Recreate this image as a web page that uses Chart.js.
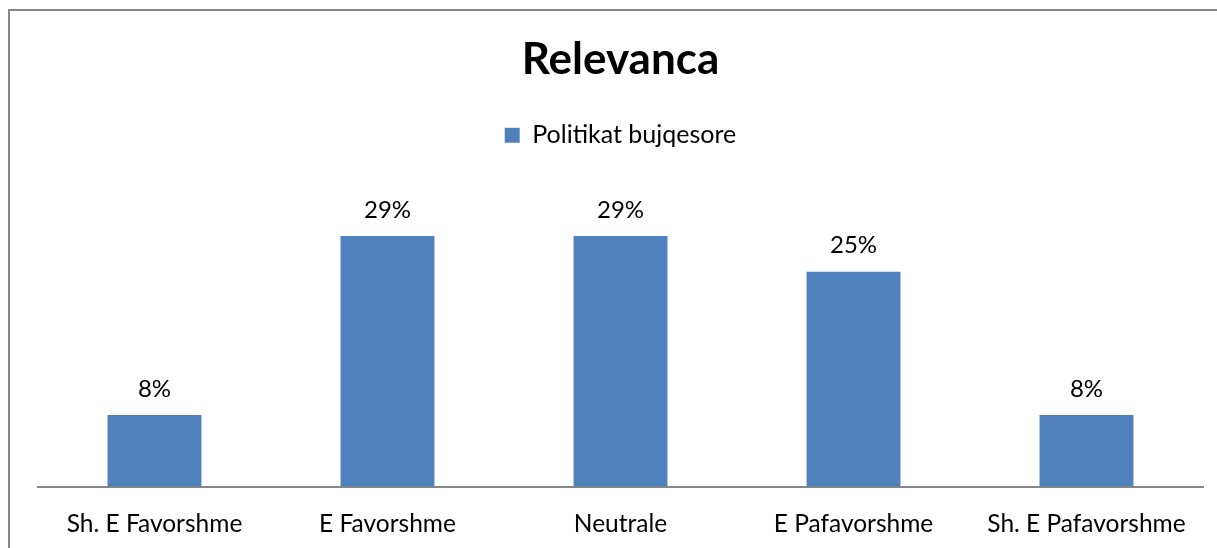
<!DOCTYPE html>
<html>
<head>
<meta charset="utf-8">
<script src="https://cdn.jsdelivr.net/npm/chart.js@4/dist/chart.umd.min.js"></script>
<style>
  html, body { margin: 0; padding: 0; background: #fff; }
  #frame {
    position: absolute; left: 0; top: 0; width: 1217px; height: 548px;
  }
  #border {
    position: absolute; left: 8px; top: 9px; right: 0; bottom: 0;
    border-top: 2px solid #868686; border-left: 2px solid #868686;
    pointer-events: none;
  }
</style>
</head>
<body>
<div id="frame">
  <canvas id="relevancaChart" width="1217" height="548"></canvas>
  <div id="border"></div>
</div>
<script>
// data (shares in %)
const categories = ["Sh. E Favorshme", "E Favorshme", "Neutrale", "E Pafavorshme", "Sh. E Pafavorshme"];
const seriesName = "Politikat bujqesore";
const seriesValues = [8.33, 29.17, 29.17, 25.0, 8.33];

const fontFamily = "Lato, 'Open Sans', sans-serif";

// draws the "29%" labels above each bar
const barLabels = {
  id: 'barLabels',
  afterDatasetsDraw(chart) {
    const ctx = chart.ctx;
    ctx.save();
    ctx.font = "24px " + fontFamily;
    ctx.fillStyle = "#000";
    ctx.textAlign = "center";
    ctx.textBaseline = "middle";
    chart.getDatasetMeta(0).data.forEach((bar, i) => {
      const v = chart.data.datasets[0].data[i];
      ctx.fillText(Math.round(v) + "%", bar.x, bar.y - 26);
    });
    ctx.restore();
  }
};

// extra room between legend and the bars
const legendGap = {
  id: 'legendGap',
  beforeInit(chart) {
    const origFit = chart.legend.fit;
    chart.legend.fit = function () {
      origFit.bind(chart.legend)();
      this.height += 28;
    };
  }
};

new Chart(document.getElementById("relevancaChart"), {
  type: 'bar',
  data: {
    labels: categories,
    datasets: [{
      label: seriesName,
      data: seriesValues,
      backgroundColor: "#4F81BD",
      barPercentage: 0.403,
      categoryPercentage: 1.0
    }]
  },
  options: {
    responsive: false,
    animation: false,
    layout: { padding: { left: 38, right: 14, top: 0, bottom: -14 } },
    plugins: {
      title: {
        display: true,
        text: "Relevanca",
        color: "#000",
        font: { family: fontFamily, size: 44, weight: 'bold', lineHeight: 1.2 },
        padding: { top: 33, bottom: 29 }
      },
      legend: {
        display: true,
        labels: {
          color: "#000",
          font: { family: fontFamily, size: 25 },
          boxWidth: 15,
          boxHeight: 15,
          padding: 8
        }
      },
      tooltip: { enabled: false }
    },
    scales: {
      x: {
        grid: { display: false, drawTicks: false },
        border: { display: true, color: "#868686", width: 2 },
        ticks: {
          color: "#000",
          font: { family: fontFamily, size: 24.5 },
          padding: 23,
          maxRotation: 0,
          autoSkip: false
        }
      },
      y: {
        display: false,
        min: 0,
        max: 35
      }
    }
  },
  plugins: [barLabels, legendGap]
});
</script>
</body>
</html>
